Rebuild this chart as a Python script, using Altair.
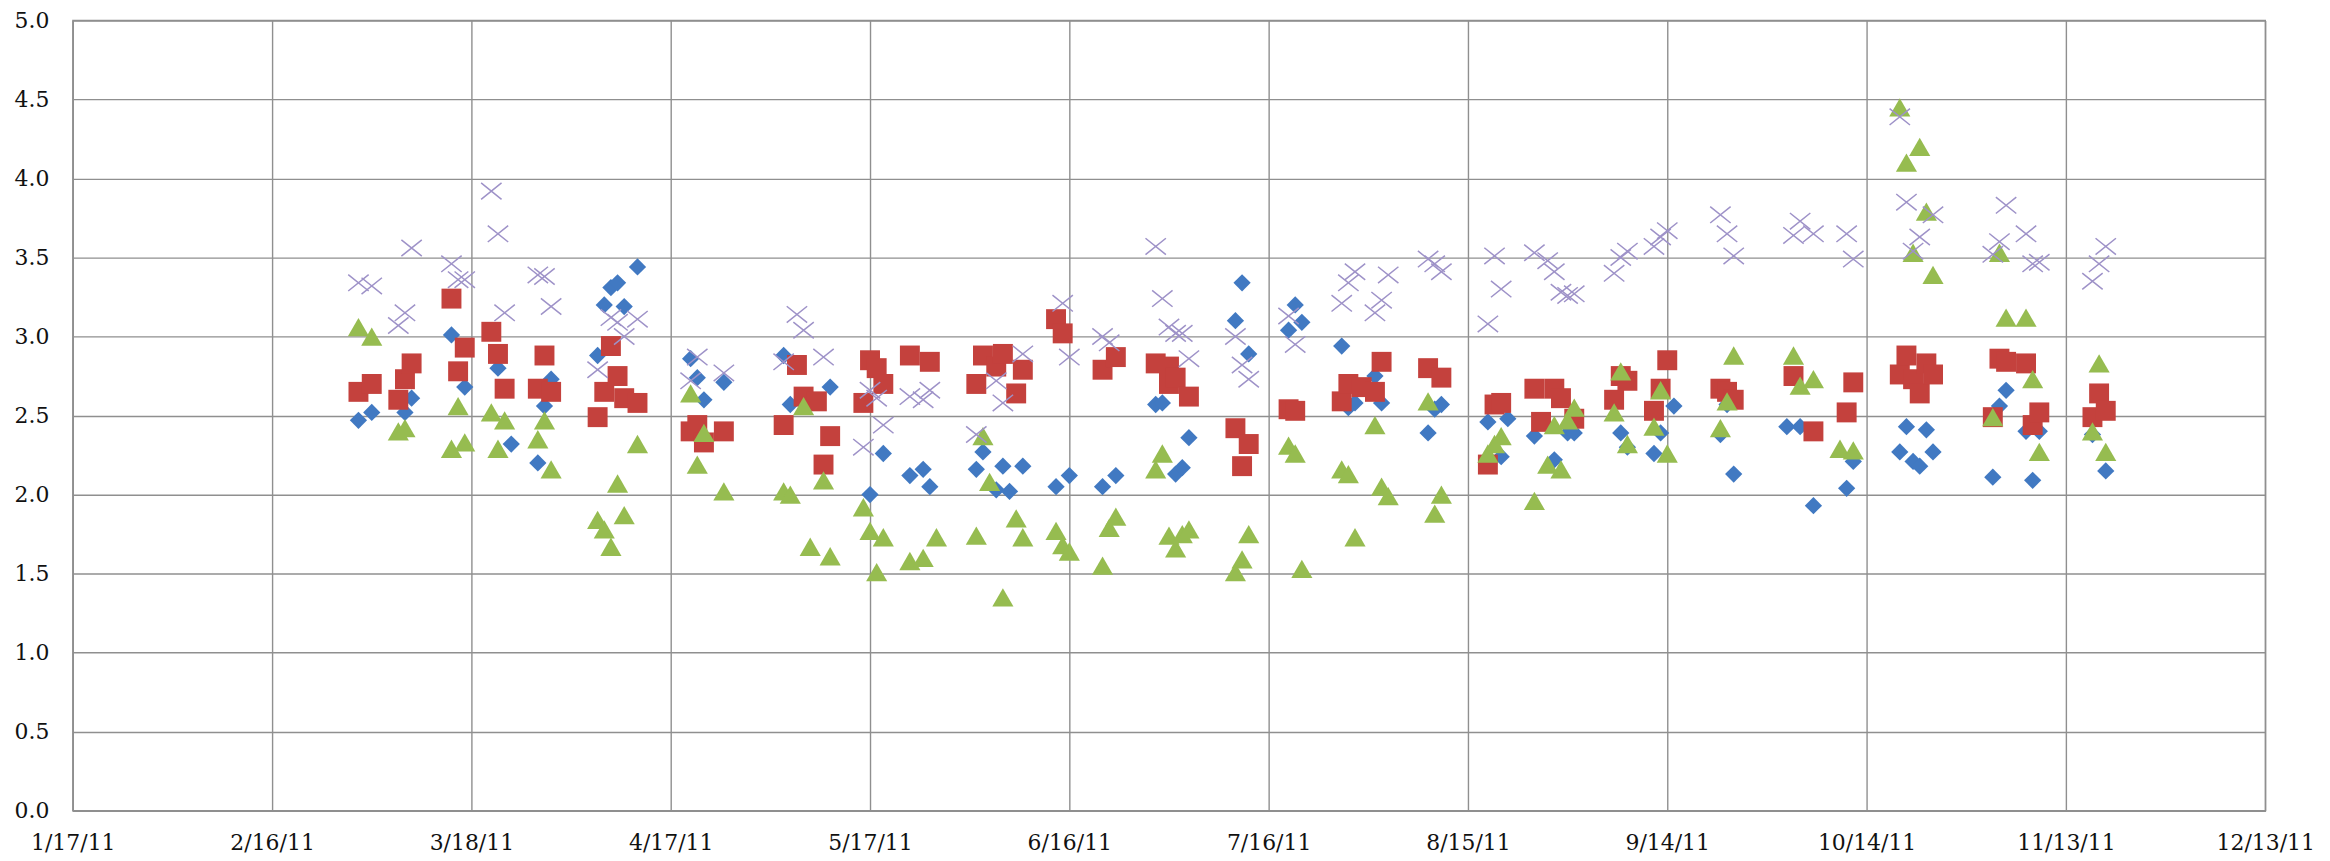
import altair as alt
import pandas as pd

# ---- data (date, value) ----
blue_dates = ["2011-03-01","2011-03-03","2011-03-08","2011-03-09","2011-03-15","2011-03-17","2011-03-22","2011-03-24","2011-03-28","2011-03-29","2011-03-30",
              "2011-04-06","2011-04-07","2011-04-08","2011-04-09","2011-04-10","2011-04-12","2011-04-20","2011-04-21","2011-04-22","2011-04-25",
              "2011-05-04","2011-05-05","2011-05-11","2011-05-17","2011-05-19","2011-05-23","2011-05-25","2011-05-26",
              "2011-06-02","2011-06-03","2011-06-05","2011-06-06","2011-06-07","2011-06-09","2011-06-14","2011-06-16",
              "2011-06-21","2011-06-23","2011-06-29","2011-06-30","2011-07-02","2011-07-03","2011-07-04","2011-07-11","2011-07-12","2011-07-13","2011-07-19","2011-07-20","2011-07-21",
              "2011-07-27","2011-07-28","2011-07-29","2011-08-01","2011-08-02","2011-08-09","2011-08-10","2011-08-11","2011-08-18","2011-08-20","2011-08-21",
              "2011-08-25","2011-08-28","2011-08-30","2011-08-31","2011-09-07","2011-09-08","2011-09-12","2011-09-13","2011-09-15","2011-09-22","2011-09-23","2011-09-24",
              "2011-10-02","2011-10-04","2011-10-06","2011-10-11","2011-10-12","2011-10-19","2011-10-20","2011-10-21","2011-10-22","2011-10-23","2011-10-24",
              "2011-11-02","2011-11-03","2011-11-04","2011-11-07","2011-11-08","2011-11-09","2011-11-17","2011-11-19"]
blue_vals = [2.47,2.52,2.52,2.61,3.01,2.68,2.80,2.32,2.20,2.56,2.73,
             2.88,3.20,3.31,3.34,3.19,3.44,2.86,2.74,2.60,2.71,
             2.88,2.57,2.68,2.00,2.26,2.12,2.16,2.05,
             2.16,2.27,2.03,2.18,2.02,2.18,2.05,2.12,
             2.05,2.12,2.57,2.58,2.13,2.17,2.36,3.10,3.34,2.89,3.04,3.20,3.09,
             2.94,2.55,2.58,2.75,2.58,2.39,2.54,2.57,2.46,2.24,2.48,
             2.37,2.22,2.39,2.39,2.39,2.30,2.26,2.39,2.56,2.38,2.57,2.13,
             2.43,2.43,1.93,2.04,2.21,2.27,2.43,2.21,2.18,2.41,2.27,
             2.11,2.56,2.66,2.40,2.09,2.40,2.38,2.15]

red_dates = ["2011-03-01","2011-03-03","2011-03-07","2011-03-08","2011-03-09","2011-03-15","2011-03-16","2011-03-17","2011-03-21","2011-03-22","2011-03-23","2011-03-28","2011-03-29","2011-03-30",
             "2011-04-06","2011-04-07","2011-04-08","2011-04-09","2011-04-10","2011-04-12","2011-04-20","2011-04-21","2011-04-22","2011-04-25",
             "2011-05-04","2011-05-06","2011-05-07","2011-05-09","2011-05-10","2011-05-11",
             "2011-05-16","2011-05-17","2011-05-18","2011-05-19","2011-05-23","2011-05-26",
             "2011-06-02","2011-06-03","2011-06-05","2011-06-06","2011-06-08","2011-06-09","2011-06-14","2011-06-15",
             "2011-06-21","2011-06-23","2011-06-29","2011-07-01","2011-07-01","2011-07-02","2011-07-04","2011-07-11","2011-07-12","2011-07-13","2011-07-19","2011-07-20",
             "2011-07-27","2011-07-28","2011-07-30","2011-08-01","2011-08-02","2011-08-09","2011-08-11","2011-08-18","2011-08-19","2011-08-20",
             "2011-08-25","2011-08-26","2011-08-28","2011-08-29","2011-08-31","2011-09-06","2011-09-07","2011-09-08","2011-09-12","2011-09-13","2011-09-14","2011-09-22","2011-09-23","2011-09-24",
             "2011-10-03","2011-10-06","2011-10-11","2011-10-12","2011-10-19","2011-10-20","2011-10-21","2011-10-22","2011-10-23","2011-10-24",
             "2011-11-02","2011-11-03","2011-11-04","2011-11-07","2011-11-08","2011-11-09","2011-11-17","2011-11-18","2011-11-19"]
red_vals = [2.65,2.70,2.60,2.73,2.83,3.24,2.78,2.93,3.03,2.89,2.67,2.67,2.88,2.65,
            2.49,2.65,2.94,2.75,2.61,2.58,2.40,2.44,2.33,2.40,
            2.44,2.82,2.62,2.59,2.19,2.37,
            2.58,2.85,2.80,2.70,2.88,2.84,
            2.70,2.88,2.81,2.89,2.64,2.79,3.11,3.02,
            2.79,2.87,2.83,2.81,2.70,2.74,2.62,2.42,2.18,2.32,2.54,2.53,
            2.59,2.70,2.68,2.65,2.84,2.80,2.74,2.19,2.57,2.58,
            2.67,2.46,2.67,2.61,2.48,2.60,2.75,2.72,2.53,2.67,2.85,2.67,2.65,2.60,
            2.75,2.40,2.52,2.71,2.76,2.88,2.73,2.64,2.83,2.76,
            2.49,2.86,2.84,2.83,2.44,2.52,2.49,2.64,2.53]

green_dates = ["2011-03-01","2011-03-03","2011-03-07","2011-03-08","2011-03-15","2011-03-16","2011-03-17","2011-03-21","2011-03-22","2011-03-23","2011-03-28","2011-03-29","2011-03-30",
               "2011-04-06","2011-04-07","2011-04-08","2011-04-09","2011-04-10","2011-04-12","2011-04-20","2011-04-21","2011-04-22","2011-04-25",
               "2011-05-04","2011-05-05","2011-05-07","2011-05-08","2011-05-10","2011-05-11",
               "2011-05-16","2011-05-17","2011-05-18","2011-05-19","2011-05-23","2011-05-25","2011-05-27",
               "2011-06-02","2011-06-03","2011-06-04","2011-06-06","2011-06-08","2011-06-09","2011-06-14","2011-06-15","2011-06-16",
               "2011-06-21","2011-06-22","2011-06-23","2011-06-29","2011-06-30","2011-07-01","2011-07-02","2011-07-03","2011-07-04","2011-07-11","2011-07-12","2011-07-13","2011-07-19","2011-07-20","2011-07-21",
               "2011-07-27","2011-07-28","2011-07-29","2011-08-01","2011-08-02","2011-08-03","2011-08-09","2011-08-10","2011-08-11","2011-08-18","2011-08-19","2011-08-20",
               "2011-08-25","2011-08-27","2011-08-28","2011-08-29","2011-08-30","2011-08-31","2011-09-06","2011-09-07","2011-09-08","2011-09-12","2011-09-13","2011-09-14","2011-09-22","2011-09-23","2011-09-24",
               "2011-10-03","2011-10-04","2011-10-06","2011-10-10","2011-10-12","2011-10-19","2011-10-20","2011-10-21","2011-10-22","2011-10-23","2011-10-24",
               "2011-11-02","2011-11-03","2011-11-04","2011-11-07","2011-11-08","2011-11-09","2011-11-17","2011-11-18","2011-11-19"]
green_vals = [3.06,3.00,2.40,2.42,2.29,2.56,2.33,2.52,2.29,2.47,2.35,2.47,2.16,
              1.84,1.78,1.67,2.07,1.87,2.32,2.64,2.19,2.39,2.02,
              2.02,2.00,2.56,1.67,2.09,1.61,
              1.92,1.77,1.51,1.73,1.58,1.60,1.73,
              1.74,2.37,2.08,1.35,1.85,1.73,1.77,1.68,1.64,
              1.55,1.79,1.86,2.16,2.26,1.74,1.66,1.75,1.78,1.51,1.59,1.75,2.31,2.26,1.53,
              2.16,2.13,1.73,2.44,2.05,1.99,2.59,1.88,2.00,2.26,2.32,2.37,
              1.96,2.19,2.44,2.16,2.47,2.55,2.52,2.78,2.32,2.43,2.66,2.26,2.42,2.59,2.88,
              2.88,2.69,2.73,2.29,2.28,4.45,4.10,3.53,4.20,3.79,3.39,
              2.49,3.53,3.12,3.12,2.73,2.27,2.40,2.83,2.27]

purple_dates = ["2011-03-01","2011-03-03","2011-03-07","2011-03-08","2011-03-09","2011-03-15","2011-03-16","2011-03-17","2011-03-21","2011-03-22","2011-03-23","2011-03-28","2011-03-29","2011-03-30",
                "2011-04-06","2011-04-08","2011-04-09","2011-04-10","2011-04-12","2011-04-20","2011-04-21","2011-04-25",
                "2011-05-04","2011-05-06","2011-05-07","2011-05-10",
                "2011-05-16","2011-05-17","2011-05-18","2011-05-19","2011-05-23","2011-05-25","2011-05-26",
                "2011-06-02","2011-06-05","2011-06-06","2011-06-09","2011-06-15","2011-06-16",
                "2011-06-21","2011-06-22","2011-06-29","2011-06-30","2011-07-01","2011-07-02","2011-07-03","2011-07-04","2011-07-11","2011-07-12","2011-07-13","2011-07-19","2011-07-20",
                "2011-07-27","2011-07-28","2011-07-29","2011-08-01","2011-08-02","2011-08-03","2011-08-09","2011-08-10","2011-08-11","2011-08-18","2011-08-19","2011-08-20",
                "2011-08-25","2011-08-27","2011-08-28","2011-08-29","2011-08-30","2011-08-31","2011-09-06","2011-09-07","2011-09-08","2011-09-12","2011-09-13","2011-09-14","2011-09-22","2011-09-23","2011-09-24",
                "2011-10-03","2011-10-04","2011-10-06","2011-10-11","2011-10-12","2011-10-19","2011-10-20","2011-10-21","2011-10-22","2011-10-24",
                "2011-11-02","2011-11-03","2011-11-04","2011-11-07","2011-11-08","2011-11-09","2011-11-17","2011-11-18","2011-11-19"]
purple_vals = [3.34,3.32,3.07,3.15,3.56,3.46,3.36,3.36,3.92,3.65,3.15,3.39,3.38,3.19,
               2.79,3.12,3.09,3.00,3.11,2.72,2.87,2.77,
               2.84,3.14,3.04,2.87,
               2.30,2.66,2.61,2.44,2.62,2.60,2.66,
               2.38,2.72,2.58,2.89,3.21,2.87,
               3.00,2.96,3.57,3.24,3.06,3.02,3.02,2.86,3.00,2.82,2.73,3.13,2.95,
               3.21,3.34,3.41,3.15,3.23,3.39,3.49,3.46,3.41,3.08,3.51,3.30,
               3.53,3.48,3.41,3.28,3.26,3.27,3.40,3.50,3.54,3.57,3.63,3.67,3.77,3.65,3.51,
               3.64,3.73,3.65,3.65,3.49,4.39,3.85,3.54,3.63,3.77,
               3.52,3.60,3.83,3.65,3.46,3.47,3.35,3.46,3.57]

x_ticks = [(2011, 1, 17), (2011, 2, 16), (2011, 3, 18), (2011, 4, 17), (2011, 5, 17), (2011, 6, 16),
           (2011, 7, 16), (2011, 8, 15), (2011, 9, 14), (2011, 10, 14), (2011, 11, 13), (2011, 12, 13)]
y_ticks = [0.0, 0.5, 1.0, 1.5, 2.0, 2.5, 3.0, 3.5, 4.0, 4.5, 5.0]

GRID = "#8f8f8f"

def dt(t):
    return alt.DateTime(year=t[0], month=t[1], date=t[2], utc=True)

x_enc = alt.X("date:T",
              scale=alt.Scale(type="utc", domain=[dt(x_ticks[0]), dt(x_ticks[-1])], nice=False),
              axis=alt.Axis(values=[dt(t) for t in x_ticks], format="%-m/%-d/%y", title=None,
                            labelFlush=False, labelOverlap=False, labelBound=False,
                            labelPadding=22, ticks=False, tickSize=0))
y_enc = alt.Y("value:Q",
              scale=alt.Scale(domain=[0, 5], nice=False, zero=True),
              axis=alt.Axis(values=y_ticks, format=".1f", title=None, labelPadding=24,
                            ticks=False, tickSize=0, labelFlush=False))


def layer(dates, vals, **mark):
    df = pd.DataFrame({"date": dates, "value": vals})
    return alt.Chart(df).mark_point(**mark).encode(x=x_enc, y=y_enc)


blue = layer(blue_dates, blue_vals, shape="diamond", filled=True, size=300,
             color="#4179C2", opacity=1)
red = layer(red_dates, red_vals, shape="square", filled=True, size=400,
            color="#C4413D", opacity=1)
green = layer(green_dates, green_vals, shape="triangle-up", filled=True, size=450,
              color="#96BC50", opacity=1)
purple = layer(purple_dates, purple_vals, shape="M-1,-0.8L1,0.8M-1,0.8L1,-0.8",
               filled=False, size=420, color="#9E92C8", strokeWidth=1.5, opacity=1)

chart = alt.layer(blue, red, green, purple).properties(
    width=2200, height=793, autosize="none",
    padding={"left": 65, "top": 11, "right": 57, "bottom": 48},
    background="white",
).configure_axis(
    grid=True, gridColor=GRID, gridWidth=1.4, gridOpacity=1,
    domainColor=GRID, domainWidth=1.4,
    labelFont="DejaVu Serif", labelFontSize=22, labelColor="#111111",
).configure_view(stroke=GRID, strokeWidth=1.4)

chart.save("out.html", embed_options={"renderer": "svg", "actions": False})
